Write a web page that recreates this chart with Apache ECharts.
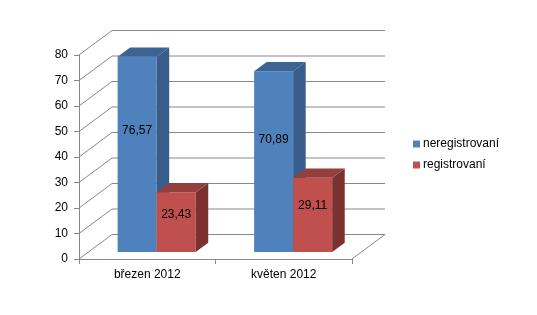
<!DOCTYPE html>
<html><head><meta charset="utf-8">
<script src="https://cdn.jsdelivr.net/npm/echarts@6/dist/echarts.min.js"></script>
<style>html,body{margin:0;padding:0;background:#fff}#c{width:537px;height:315px}</style>
</head><body><div id="c"></div>
<script>
const categories = ['březen 2012', 'květen 2012'];
const seriesNames = ['neregistrovaní', 'registrovaní'];
const neregistrovani = [76.57, 70.89];
const registrovani = [23.43, 29.11];
const yTicks = [0, 10, 20, 30, 40, 50, 60, 70, 80];

const FONT = 'Liberation Sans';
const FS = 12;
const DX = 33, DY = -24.5;      // depth of the 3D box
const PLANE = 0.285;            // depth at which the bars stand
const BDEPTH = 0.38;            // depth of each bar
const faces = [
  {front: '#4F81BD', side: '#385D8A', top: '#3B6494'},
  {front: '#C0504D', side: '#7D312F', top: '#93403D'}
];
const GRID = '#888888';

function barRender(si) {
  return function (params, api) {
    const cat = api.value(0), v = api.value(1);
    const base = api.coord([cat, 0]);
    const topP = api.coord([cat, v]);
    const band = api.size([1, 0])[0];
    const w = band * 0.286;
    const ox = DX * PLANE, oy = DY * PLANE;
    const xl = base[0] + (si === 0 ? -w : 0) + ox;
    const xr = xl + w;
    const yb = base[1] + oy, yt = topP[1] + oy;
    const dx = DX * BDEPTH, dy = DY * BDEPTH;
    const lab = api.coord([cat, v * 0.62]);
    const f = faces[si];
    return {
      type: 'group',
      children: [
        {type: 'rect', shape: {x: xl, y: yt, width: w, height: yb - yt}, style: {fill: f.front}},
        {type: 'polygon', shape: {points: [[xr, yb], [xr + dx, yb + dy], [xr + dx, yt + dy], [xr, yt]]}, style: {fill: f.side}},
        {type: 'polygon', shape: {points: [[xl, yt], [xr, yt], [xr + dx, yt + dy], [xl + dx, yt + dy]]}, style: {fill: f.top}},
        {type: 'text', style: {
          text: v.toFixed(2).replace('.', ','), x: (xl + xr) / 2, y: lab[1] + oy,
          align: 'center', verticalAlign: 'middle', fill: '#000', font: FS + 'px "' + FONT + '"'}}
      ]
    };
  };
}

function gridRender(params, api) {
  const cs = params.coordSys;
  const v = api.value(1);
  const p = api.coord([0, v]);
  const y = p[1];
  const x0 = cs.x, x1 = cs.x + cs.width;
  const st = {stroke: GRID, lineWidth: 1};
  const ch = [
    {type: 'line', shape: {x1: x0 + DX, y1: y + DY, x2: x1 + DX, y2: y + DY}, style: st},
    {type: 'line', shape: {x1: x0, y1: y, x2: x0 + DX, y2: y + DY}, style: st}
  ];
  if (v === 0) ch.push({type: 'line', shape: {x1: x1, y1: y, x2: x1 + DX, y2: y + DY}, style: st});
  return {type: 'group', children: ch};
}

const chart = echarts.init(document.getElementById('c'), null, {renderer: 'canvas'});
chart.setOption({
  animation: false,
  backgroundColor: '#fff',
  grid: {left: 79, right: 185, top: 55, bottom: 56},
  legend: {
    data: seriesNames, orient: 'vertical', left: 408, top: 133,
    itemWidth: 7, itemHeight: 7, itemGap: 9, icon: 'rect',
    textStyle: {fontFamily: FONT, fontSize: FS, color: '#000', padding: [0, 0, 0, -2]}
  },
  xAxis: {
    type: 'category', data: categories,
    axisLine: {lineStyle: {color: GRID}},
    axisTick: {show: true, length: 5, lineStyle: {color: GRID}},
    axisLabel: {fontFamily: FONT, fontSize: FS, color: '#000', margin: 10},
    splitLine: {show: false}
  },
  yAxis: {
    type: 'value', min: 0, max: 80, interval: 10,
    axisLine: {show: true, lineStyle: {color: GRID}},
    axisTick: {show: true, length: 5, lineStyle: {color: GRID}},
    axisLabel: {fontFamily: FONT, fontSize: FS, color: '#000', margin: 11},
    splitLine: {show: false}
  },
  series: [
    {type: 'custom', name: '_grid', clip: false, z: 1, silent: true,
     data: yTicks.map(t => [0, t]), renderItem: gridRender},
    {type: 'custom', name: seriesNames[0], clip: false, z: 3,
     itemStyle: {color: faces[0].front},
     data: neregistrovani.map((v, i) => [i, v]), renderItem: barRender(0)},
    {type: 'custom', name: seriesNames[1], clip: false, z: 4,
     itemStyle: {color: faces[1].front},
     data: registrovani.map((v, i) => [i, v]), renderItem: barRender(1)}
  ]
});
</script></body></html>
